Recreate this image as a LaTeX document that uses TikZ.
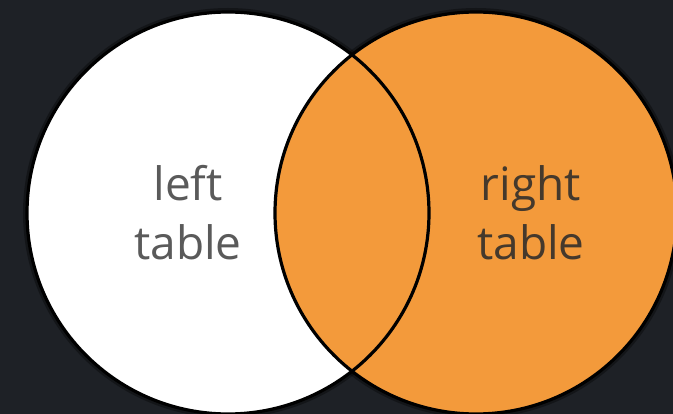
\documentclass[tikz,border=0pt]{standalone}
\usepackage{fontspec}
\setmainfont{Open Sans}
\definecolor{bg}{HTML}{1E2126}
\definecolor{venorange}{HTML}{F39A3B}
\definecolor{lefttext}{HTML}{5A5A5A}
\definecolor{righttext}{HTML}{45392C}
\begin{document}
\begin{tikzpicture}[x=1pt,y=-1pt,
  ring/.style={draw=black,line width=3.2pt},
  halo/.style={draw=black,opacity=0.35,line width=8pt},
  lbl/.style={font=\fontsize{46}{59}\selectfont,align=center,inner sep=0pt}]
\fill[bg] (0,0) rectangle (673,414);
\useasboundingbox (0,0) rectangle (673,414);
\coordinate (lc) at (228,213);
\coordinate (rc) at (476,213);
\draw[halo] (lc) circle[radius=201];
\draw[halo] (rc) circle[radius=201];
\fill[white] (lc) circle[radius=201];
\fill[venorange] (rc) circle[radius=201];
\draw[ring] (lc) circle[radius=201];
\draw[ring] (rc) circle[radius=201];
\node[lbl,text=lefttext] (lt) at (188,213) {left\\table};
\node[lbl,text=righttext] (rt) at (531,213) {right\\table};
\end{tikzpicture}
\end{document}
